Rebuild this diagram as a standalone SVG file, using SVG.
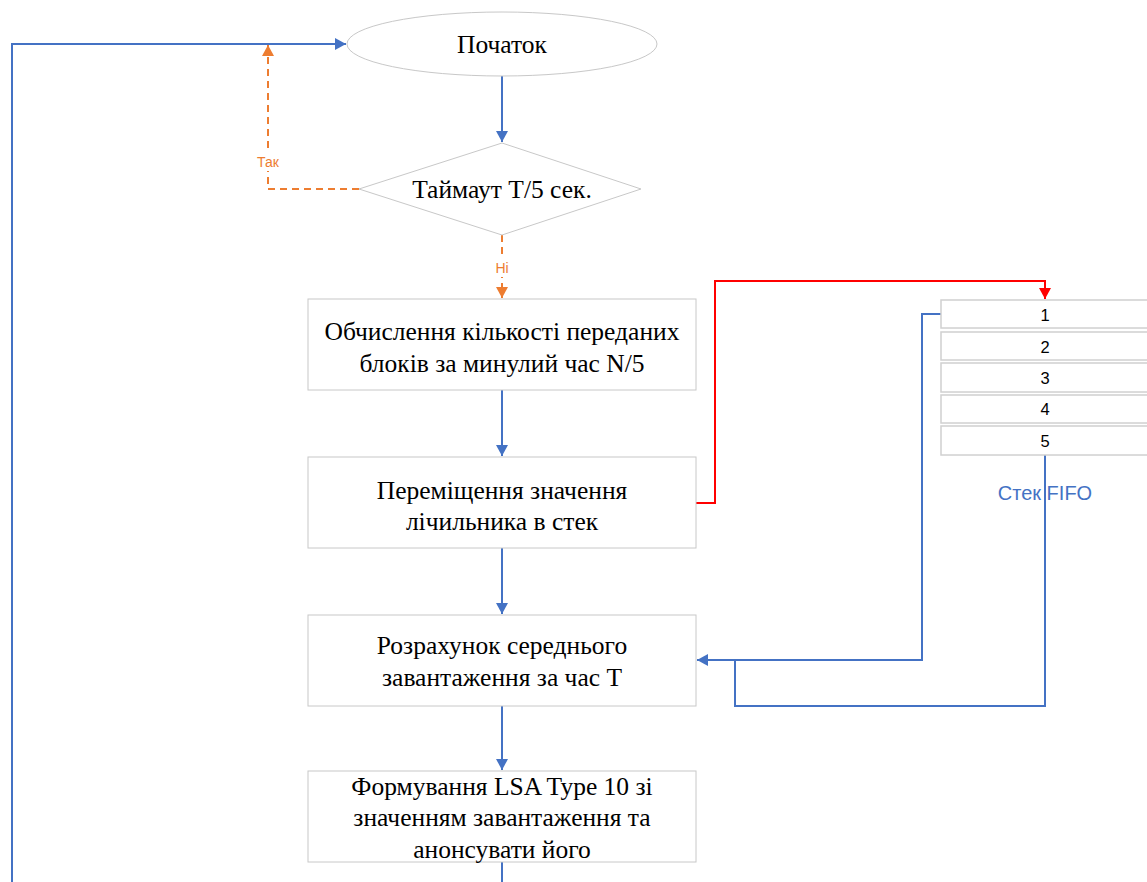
<svg xmlns="http://www.w3.org/2000/svg" width="1147" height="882" viewBox="0 0 1147 882">
  <style>
    .shape { fill: #ffffff; stroke: #c8c8c8; stroke-width: 1; }
    .cell { fill: #ffffff; stroke: #d0d0d0; stroke-width: 1.5; }
    .txt { font-family: "Liberation Serif", "Times New Roman", serif; font-size: 25.5px; fill: #000000; text-anchor: middle; dominant-baseline: central; }
    .num { font-family: "Liberation Sans", Arial, sans-serif; font-size: 16.5px; fill: #000000; text-anchor: middle; dominant-baseline: central; }
    .lbl { font-family: "Liberation Sans", Arial, sans-serif; font-size: 14px; fill: #ED7D31; text-anchor: middle; dominant-baseline: central; }
    .cap { font-family: "Liberation Sans", Arial, sans-serif; font-size: 20px; fill: #4472C4; text-anchor: middle; dominant-baseline: central; }
    .blue { fill: none; stroke: #4472C4; stroke-width: 2; }
    .orange { fill: none; stroke: #ED7D31; stroke-width: 2; stroke-dasharray: 7 5; }
    .red { fill: none; stroke: #FF0000; stroke-width: 2; }
  </style>
  <defs>
    <marker id="arrBlue" viewBox="0 0 10 10" refX="10" refY="5" markerWidth="11" markerHeight="12" markerUnits="userSpaceOnUse" orient="auto" preserveAspectRatio="none">
      <path d="M0,0 L10,5 L0,10 z" fill="#4472C4"/>
    </marker>
    <marker id="arrOrange" viewBox="0 0 10 10" refX="10" refY="5" markerWidth="11" markerHeight="12" markerUnits="userSpaceOnUse" orient="auto" preserveAspectRatio="none">
      <path d="M0,0 L10,5 L0,10 z" fill="#ED7D31"/>
    </marker>
    <marker id="arrRed" viewBox="0 0 10 10" refX="10" refY="5" markerWidth="11" markerHeight="12" markerUnits="userSpaceOnUse" orient="auto" preserveAspectRatio="none">
      <path d="M0,0 L10,5 L0,10 z" fill="#FF0000"/>
    </marker>
  </defs>

  <!-- connectors -->
  <g id="connectors">
    <path class="blue" d="M12,882 V44 H346" marker-end="url(#arrBlue)"/>
    <path class="blue" d="M502,76 V142" marker-end="url(#arrBlue)"/>
    <path class="orange" d="M359,189 H268 V45" marker-end="url(#arrOrange)"/>
    <path class="orange" d="M502,235 V298" marker-end="url(#arrOrange)"/>
    <path class="blue" d="M502,390 V456" marker-end="url(#arrBlue)"/>
    <path class="red" d="M696,503 H715 V281 H1045 V299" marker-end="url(#arrRed)"/>
    <path class="blue" d="M502,548 V614" marker-end="url(#arrBlue)"/>
    <path class="blue" d="M941,314 H922 V660 H697" marker-end="url(#arrBlue)"/>
    <path class="blue" d="M1045,455 V706 H735 V660"/>
    <path class="blue" d="M502,706 V770" marker-end="url(#arrBlue)"/>
    <path class="blue" d="M502,862 V882"/>
    <rect x="256" y="153" width="24" height="18" fill="#ffffff"/>
    <text class="lbl" x="268" y="162">Так</text>
    <rect x="493" y="259" width="18" height="18" fill="#ffffff"/>
    <text class="lbl" x="502" y="268">Ні</text>
  </g>

  <g id="start">
    <ellipse class="shape" cx="502" cy="44" rx="155" ry="32"/>
    <text class="txt" x="502" y="44">Початок</text>
  </g>

  <g id="timeout">
    <polygon class="shape" points="502,143 641,189 502,235 359,189"/>
    <text class="txt" x="502" y="189">Таймаут T/5 сек.</text>
  </g>

  <g id="count">
    <rect class="shape" x="308" y="299" width="388" height="91"/>
    <text class="txt" x="502" y="331">Обчислення кількості переданих</text>
    <text class="txt" x="502" y="363">блоків за минулий час N/5</text>
  </g>

  <g id="push">
    <rect class="shape" x="308" y="457" width="388" height="91"/>
    <text class="txt" x="502" y="490">Переміщення значення</text>
    <text class="txt" x="502" y="521">лічильника в стек</text>
  </g>

  <g id="average">
    <rect class="shape" x="308" y="615" width="388" height="91"/>
    <text class="txt" x="502" y="645">Розрахунок середнього</text>
    <text class="txt" x="502" y="677">завантаження за час T</text>
  </g>

  <g id="announce">
    <rect class="shape" x="308" y="771" width="388" height="91"/>
    <text class="txt" x="502" y="786">Формування LSA Type 10 зі</text>
    <text class="txt" x="502" y="817">значенням завантаження та</text>
    <text class="txt" x="502" y="849">анонсувати його</text>
  </g>

  <g id="fifo">
    <rect class="cell" x="941" y="300" width="220" height="28"/>
    <text class="num" x="1045" y="315">1</text>
    <rect class="cell" x="941" y="332" width="220" height="28"/>
    <text class="num" x="1045" y="347">2</text>
    <rect class="cell" x="941" y="363" width="220" height="29"/>
    <text class="num" x="1045" y="378">3</text>
    <rect class="cell" x="941" y="395" width="220" height="28"/>
    <text class="num" x="1045" y="409">4</text>
    <rect class="cell" x="941" y="426" width="220" height="29"/>
    <text class="num" x="1045" y="441">5</text>
    <text class="cap" x="1045" y="493">Стек FIFO</text>
  </g>
</svg>
